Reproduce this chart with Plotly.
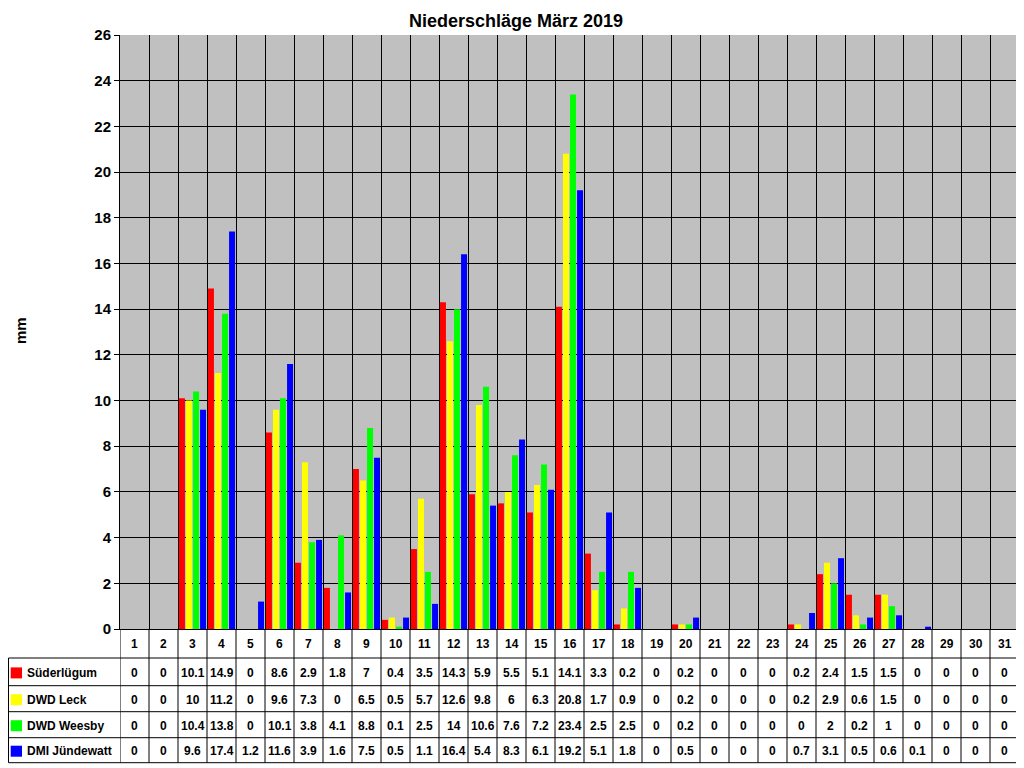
import plotly.graph_objects as go

days = list(range(1, 32))
station_names = ["Süderlügum", "DWD Leck", "DWD Weesby", "DMI Jündewatt"]
station_colors = ["#FF0000", "#FFFF00", "#00FF00", "#0000FF"]

suederluegum = [0, 0, 10.1, 14.9, 0, 8.6, 2.9, 1.8, 7, 0.4, 3.5, 14.3, 5.9, 5.5, 5.1,
                14.1, 3.3, 0.2, 0, 0.2, 0, 0, 0, 0.2, 2.4, 1.5, 1.5, 0, 0, 0, 0]
dwd_leck = [0, 0, 10, 11.2, 0, 9.6, 7.3, 0, 6.5, 0.5, 5.7, 12.6, 9.8, 6, 6.3,
            20.8, 1.7, 0.9, 0, 0.2, 0, 0, 0, 0.2, 2.9, 0.6, 1.5, 0, 0, 0, 0]
dwd_weesby = [0, 0, 10.4, 13.8, 0, 10.1, 3.8, 4.1, 8.8, 0.1, 2.5, 14, 10.6, 7.6, 7.2,
              23.4, 2.5, 2.5, 0, 0.2, 0, 0, 0, 0, 2, 0.2, 1, 0, 0, 0, 0]
dmi_juendewatt = [0, 0, 9.6, 17.4, 1.2, 11.6, 3.9, 1.6, 7.5, 0.5, 1.1, 16.4, 5.4, 8.3, 6.1,
                  19.2, 5.1, 1.8, 0, 0.5, 0, 0, 0, 0.7, 3.1, 0.5, 0.6, 0.1, 0, 0, 0]

series = [suederluegum, dwd_leck, dwd_weesby, dmi_juendewatt]

FONT = "Liberation Sans, Arial, sans-serif"

# page puts the figure 8px in from the top-left corner
OFF = 8
W, H = 1024 - OFF, 768 - OFF
# plot area in screen pixels
L, R, T, B = 120, 1019, 35, 629
PW, PH = R - L, B - T


def py(p):
    # screen pixel y -> paper y
    return (B - p) / PH


def px(p):
    # screen pixel x -> paper x
    return (p - L) / PW


fig = go.Figure()
for name, col, vals in zip(station_names, station_colors, series):
    fig.add_trace(go.Bar(x=days, y=vals, name=name, marker_color=col,
                         marker_line_width=0, showlegend=False))

# table lines
left_edge = 8.5
row_lines = [658, 685.7, 711.7, 737.7, 762.7]
shapes = []
for yl in row_lines:
    shapes.append(dict(type="line", xref="paper", yref="paper",
                       x0=px(left_edge), x1=1, y0=py(yl), y1=py(yl),
                       line=dict(color="black", width=1)))
for k in range(32):
    shapes.append(dict(type="line", xref="x", yref="paper",
                       x0=k + 0.5, x1=k + 0.5, y0=0, y1=py(762.7),
                       line=dict(color="black", width=1)))
shapes.append(dict(type="line", xref="paper", yref="paper",
                   x0=px(left_edge), x1=px(left_edge), y0=py(658), y1=py(762.7),
                   line=dict(color="black", width=1)))

annotations = []
tfont = dict(family=FONT, size=12, color="black", weight="bold")
# header with day numbers
for d in days:
    annotations.append(dict(x=d, y=py(643.5), xref="x", yref="paper", text=str(d),
                            showarrow=False, font=tfont, xanchor="center", yanchor="middle"))

row_centers = [671.9, 698.7, 724.7, 750.2]
for rc, name, col, vals in zip(row_centers, station_names, station_colors, series):
    shapes.append(dict(type="rect", xref="paper", yref="paper",
                       x0=px(10.7), x1=px(22), y0=py(rc - 4.5), y1=py(rc + 6.5),
                       fillcolor=col, line=dict(width=0)))
    annotations.append(dict(x=px(25), y=py(rc + 1), xref="paper", yref="paper", text=name,
                            showarrow=False, font=tfont, xanchor="left", yanchor="middle"))
    for d, v in zip(days, vals):
        annotations.append(dict(x=d, y=py(rc + 1), xref="x", yref="paper", text=f"{v:g}",
                                showarrow=False, font=tfont, xanchor="center", yanchor="middle"))

# y axis title
annotations.append(dict(x=px(20), y=py(331), xref="paper", yref="paper", text="mm",
                        textangle=-90, showarrow=False, xanchor="center", yanchor="middle",
                        font=dict(family=FONT, size=15, color="black", weight="bold")))

fig.update_layout(
    width=W, height=H,
    margin=dict(l=L - OFF, r=1024 - R, t=T - OFF, b=768 - B),
    paper_bgcolor="white", plot_bgcolor="#C0C0C0",
    barmode="group", bargap=0.03, bargroupgap=0.15,
    title=dict(text="Niederschläge März 2019", x=0.5, xanchor="center",
               y=1 - (20.5 - OFF) / H, yanchor="middle",
               font=dict(family=FONT, size=18, color="black", weight="bold")),
    shapes=shapes, annotations=annotations,
)
fig.update_xaxes(range=[0.5, 31.5], tick0=0.5, dtick=1, showgrid=True, gridcolor="black",
                 gridwidth=1, showticklabels=False, ticks="", zeroline=False,
                 showline=True, linecolor="black", linewidth=1)
fig.update_yaxes(range=[0, 26], dtick=2, showgrid=True, gridcolor="black", gridwidth=1,
                 ticks="outside", ticklen=5, tickcolor="black", zeroline=False,
                 showline=True, linecolor="black", linewidth=1,
                 tickfont=dict(family=FONT, size=15, color="black", weight="bold"))

fig.write_html("out.html")
